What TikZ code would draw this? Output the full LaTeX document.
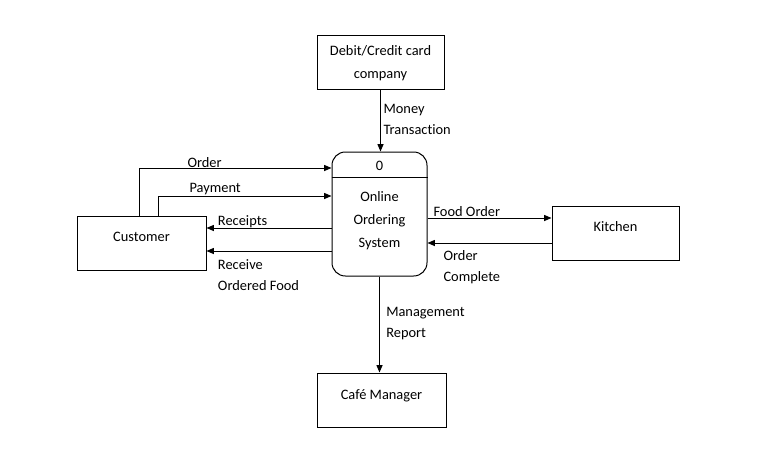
\documentclass[tikz,border=0pt]{standalone}
\usepackage{fontspec}
\setmainfont[Ligatures=NoCommon]{Carlito}
\usetikzlibrary{arrows.meta}
\tikzset{
  ent/.style={draw, line width=0.75pt, minimum width=95.25pt, minimum height=40.5pt, inner sep=0pt},
  proc/.style={draw, line width=0.75pt, rounded corners=10pt, minimum width=71.25pt, minimum height=93pt, inner sep=0pt},
  flow/.style={line width=0.75pt, -{Triangle[length=5.5pt,width=4.5pt]}},
  txt/.style={font=\fontsize{10.8}{17}\selectfont, align=center, inner sep=0pt},
  lbl/.style={font=\fontsize{10.8}{15.75}\selectfont, align=left, anchor=base west, inner sep=0pt}
}
\begin{document}
\begin{tikzpicture}[x=0.75pt,y=-0.75pt]
   \useasboundingbox (0,0) rectangle (768,461);
   \node[ent] (debit) at (380.5,62) {};
   \node[ent, minimum width=96.75pt] (cust) at (141.5,243) {};
   \node[ent] (kit) at (615.5,233) {};
   \node[ent, minimum width=96.75pt] (mgr) at (381.5,400) {};
   \node[proc] (proc) at (379.5,214) {};
   \coordinate (split) at (0,177);
   \draw[line width=0.75pt] (proc.west |- split) -- (proc.east |- split);
   \node[txt, anchor=base] (debittxt) at (380.5,78.3) {Debit/Credit card\\company};
   \node[txt, anchor=base] (custtxt) at (141.5,241.7) {Customer};
   \node[txt, anchor=base] (kittxt) at (615.5,231.5) {Kitchen};
   \node[txt, anchor=base] (mgrtxt) at (381.5,399.3) {Café Manager};
   \node[txt, anchor=base] (proctop) at (379.5,170) {0};
   \node[txt, anchor=base, font=\fontsize{10.8}{17.25}\selectfont] (proctxt) at (379.5,247.3) {Online\\Ordering\\System};
   \coordinate (ord) at (139,168);
   \coordinate (pay) at (158,196);
   \coordinate (rcpt) at (0,228);
   \coordinate (recv) at (0,251);
   \coordinate (food) at (0,218);
   \coordinate (done) at (0,243);
   \draw[flow] (debit.south) -- (debit.south |- proc.north);
   \draw[flow] (cust.north -| ord) |- (proc.west |- ord);
   \draw[flow] (cust.north -| pay) |- (proc.west |- pay);
   \draw[flow] (proc.west |- rcpt) -- (cust.east |- rcpt);
   \draw[flow] (proc.west |- recv) -- (cust.east |- recv);
   \draw[flow] (proc.east |- food) -- (kit.west |- food);
   \draw[flow] (kit.west |- done) -- (proc.east |- done);
   \draw[flow] (proc.south) -- (proc.south |- mgr.north);
   \node[lbl] (moneylbl) at (383.3,134) {Money\\Transaction};
   \node[lbl] (ordlbl) at (187.3,167) {Order};
   \node[lbl] (paylbl) at (189.3,192.3) {Payment};
   \node[lbl] (rcptlbl) at (217.7,225) {Receipts};
   \node[lbl] (recvlbl) at (217.7,290) {Receive\\Ordered Food};
   \node[lbl] (foodlbl) at (433.3,216) {Food Order};
   \node[lbl] (donelbl) at (443.3,281.7) {Order\\Complete};
   \node[lbl] (mgmtlbl) at (386,337.7) {Management\\Report};
\end{tikzpicture}
\end{document}
